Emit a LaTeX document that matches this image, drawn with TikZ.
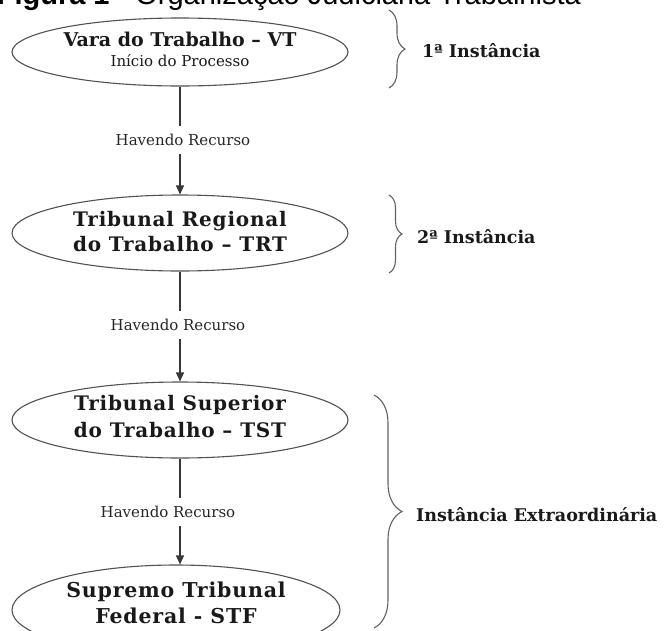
\documentclass[tikz,border=0pt]{standalone}
\usepackage{fontspec}
\setmainfont{DejaVu Serif}
\newfontfamily\titlefont{Liberation Sans}
\newfontfamily\widebf[LetterSpace=4]{DejaVu Serif Bold}
\usetikzlibrary{shapes.geometric,arrows.meta,decorations.pathreplacing}
\begin{document}
\begin{tikzpicture}[x=1pt,y=-1pt,
  court/.style={ellipse, draw=black!68, line width=1.1pt, inner sep=0pt, align=center,
    text=black!90, font=\widebf\fontsize{20}{25}\selectfont},
  recurso/.style={font=\fontsize{15}{16}\selectfont, text height=11pt, text depth=0pt,
    inner xsep=0pt, inner ysep=8.5pt, text=black!85},
  conn/.style={draw=black!78, line width=1.2pt},
  arr/.style={conn, -{Triangle[length=9pt,width=8pt]}},
  bracestyle/.style={draw=black!62, line width=1.1pt, decorate, decoration={brace, amplitude=#1}},
  inst/.style={anchor=west, font=\fontsize{17.5}{18}\selectfont\bfseries, inner sep=0pt, text=black!90}
]
\clip (0,0) rectangle (664,630);
\useasboundingbox (0,0) rectangle (664,630);

% title (cut at the top edge, as in the reference)
\node[anchor=base east, inner sep=0pt, font=\titlefont\fontsize{29}{32}\selectfont] (title) at (581,4)
  {\textbf{Figura 1} - Organização Judiciária Trabalhista};

% courts
\node[court, minimum width=336pt, minimum height=68pt, font=\fontsize{19}{20}\selectfont\bfseries] (vt) at (180,52)
  {Vara do Trabalho – VT\\{\mdseries\fontsize{15}{19}\selectfont Início do Processo\rule[-5pt]{0pt}{0pt}}};
\node[court, minimum width=336pt, minimum height=76pt] (trt) at (180,233)
  {Tribunal Regional\\do Trabalho – TRT\rule[-4pt]{0pt}{0pt}};
\node[court, minimum width=336pt, minimum height=76pt, font=\widebf\fontsize{20}{27}\selectfont] (tst) at (180,420)
  {Tribunal Superior\\do Trabalho – TST\rule[-7pt]{0pt}{0pt}};
\node[court, minimum width=328pt, minimum height=90pt, font=\widebf\fontsize{20.5}{26}\selectfont] (stf) at (176,610)
  {Supremo Tribunal\\Federal - STF\rule[-14pt]{0pt}{0pt}};

% appeal labels
\node[recurso] (r1) at (183,140) {Havendo Recurso};
\node[recurso] (r2) at (178,325) {Havendo Recurso};
\node[recurso] (r3) at (168,512) {Havendo Recurso};

% connectors
\draw[conn] (vt.south) -- (vt.south |- r1.north);
\draw[arr] (vt.south |- r1.south) -- (trt.north);
\draw[conn] (trt.south) -- (trt.south |- r2.north);
\draw[arr] (trt.south |- r2.south) -- (tst.north);
\draw[conn] (tst.south) -- (tst.south |- r3.north);
\draw[arr] (tst.south |- r3.south) -- (tst.south |- stf.north);

% braces
\coordinate (b1a) at (389,10);  \coordinate (b1b) at (389,88);
\coordinate (b2a) at (389,195); \coordinate (b2b) at (389,273);
\coordinate (b3a) at (374,395); \coordinate (b3b) at (374,628);
\draw[bracestyle=16pt] (b1a) -- (b1b);
\draw[bracestyle=13pt] (b2a) -- (b2b);
\draw[bracestyle=28pt] (b3a) -- (b3b);

\node[inst] (i1) at (422,51) {1ª Instância};
\node[inst] (i2) at (417,237) {2ª Instância};
\node[inst] (i3) at (416,515) {Instância Extraordinária};
\end{tikzpicture}
\end{document}
